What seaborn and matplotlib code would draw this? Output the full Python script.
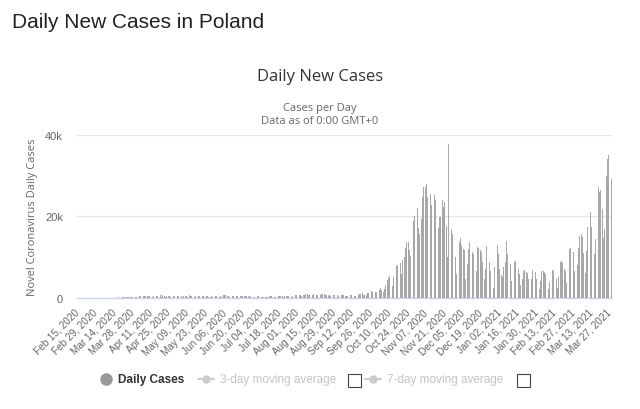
import numpy as np
import pandas as pd
import matplotlib
matplotlib.use("Agg")
import matplotlib.pyplot as plt
import seaborn as sns
from matplotlib.lines import Line2D
from matplotlib.patches import Rectangle

# ---- data (daily new cases) ----
feb_2020 = [0, 0, 0, 0, 0, 0, 0, 0, 0, 0, 0, 0, 0, 0, 0]
mar_2020 = [0, 0, 0, 1, 0, 4, 1, 5, 6, 5, 9, 20, 17, 36, 8, 27, 52, 30, 49, 70,
            111, 98, 115, 152, 150, 170, 249, 193, 224, 256, 243]
apr_2020 = [311, 392, 437, 244, 475, 311, 325, 370, 380, 361, 318, 268, 401, 260, 380,
            336, 363, 545, 263, 545, 306, 263, 380, 381, 460, 284, 285, 299, 345, 266]
may_2020 = [353, 306, 285, 302, 248, 307, 307, 329, 280, 595, 345, 361, 188, 271, 381,
            265, 379, 319, 228, 355, 416, 228, 443, 395, 220, 292, 321, 243, 259, 328, 380]
jun_2020 = [230, 292, 361, 294, 576, 575, 599, 375, 359, 282, 282, 314, 407, 308, 314,
            381, 378, 311, 441, 376, 300, 303, 301, 316, 292, 375, 240, 254, 282, 284]
jul_2020 = [371, 359, 300, 279, 292, 213, 193, 289, 290, 358, 299, 300, 249, 180, 267,
            306, 342, 334, 362, 295, 289, 375, 420, 418, 443, 337, 291, 512, 615, 657, 658]
aug_2020 = [640, 559, 680, 512, 617, 726, 809, 843, 658, 599, 548, 587, 832, 775, 730,
            716, 548, 587, 809, 811, 903, 767, 694, 578, 507, 758, 887, 784, 641, 600, 546]
sep_2020 = [513, 578, 554, 603, 655, 481, 377, 469, 611, 600, 661, 677, 476, 458, 600,
            757, 974, 1002, 1050, 780, 744, 752, 1136, 1264, 1587, 1584, 1350, 1000, 1306, 1326]
oct_2020 = [1552, 1967, 2292, 1934, 1306, 2236, 3003, 4280, 4739, 5300, 4178, 2855, 5068,
            6526, 8099, 7705, 9622, 8536, 5709, 9291, 10040, 12107, 13632, 13628, 11742,
            10241, 16300, 18820, 20156, 21629, 21897]
nov_2020 = [17171, 15578, 19364, 24692, 27143, 27086, 27875, 24785, 21713, 25484, 22683,
            24400, 25200, 24051, 21800, 17000, 19700, 19900, 23900, 22200, 23400, 17700,
            10100, 37596, 15300, 16900, 15700, 14800, 10000, 5700]
dec_2020 = [9100, 13600, 14700, 13000, 12000, 11600, 4600, 8300, 12000, 13600, 12400,
            11300, 10700, 4600, 6600, 12400, 12100, 11600, 11100, 8700, 4600, 7000, 12800,
            12000, 8700, 6600, 3400, 2500, 7500, 12800, 13000]
jan_2021 = [10700, 7000, 5600, 5000, 7500, 8700, 14000, 10700, 9900, 8300, 4200, 5800,
            8700, 9100, 8300, 7000, 5800, 3000, 4500, 6600, 6800, 6400, 6000, 4700, 2100,
            4600, 6700, 6800, 6200, 4600, 3800]
feb_2021 = [2100, 4200, 6600, 6500, 6200, 5800, 4600, 2100, 3900, 6900, 6700, 6600, 6100,
            4600, 2500, 5200, 8700, 8900, 8500, 7000, 6600, 3600, 6200, 12000, 12100, 12000,
            11100, 6600]
mar_2021 = [4786, 7937, 12146, 15250, 15698, 14857, 10896, 6170, 11385, 17260, 21045,
            21049, 17354, 15000, 10700, 14396, 25052, 27278, 25998, 26405, 21849, 14578,
            16741, 29800, 34100, 34900, 31500, 29200]

cases = (feb_2020 + mar_2020 + apr_2020 + may_2020 + jun_2020 + jul_2020 + aug_2020 +
         sep_2020 + oct_2020 + nov_2020 + dec_2020 + jan_2021 + feb_2021 + mar_2021)
dates = pd.date_range("2020-02-15", periods=len(cases), freq="D")
tick_every = 14
y_ticks = [0, 20000, 40000]
y_tick_labels = ["0", "20k", "40k"]

df = pd.DataFrame({"day": np.arange(len(cases)), "cases": cases})

# ---- style ----
sns.set_theme(style="white")
plt.rcParams['font.family'] = ['Liberation Sans', 'DejaVu Sans']

W, H = 640, 410
def fx(px):
    return px / W
def fy(py):
    return 1 - py / H

fig = plt.figure(figsize=(6.4, 4.1), dpi=100)
ax = fig.add_axes([fx(77), fy(298.7), fx(612) - fx(77), fy(135.7) - fy(298.7)])

sns.barplot(data=df, x="day", y="cases", color="#a8a8a8", saturation=1,
            width=0.62, linewidth=0, edgecolor="none", ax=ax, errorbar=None, zorder=3)

ax.set_xlim(-0.5, len(cases) - 0.5)
ax.set_ylim(0, 40000)
ax.set_yticks(y_ticks)
ax.set_yticklabels(y_tick_labels)
ax.yaxis.grid(True, color="#e6e6e6", linewidth=1.0, zorder=0)
ax.xaxis.grid(False)
ax.set_axisbelow(True)
for s in ["top", "right", "left"]:
    ax.spines[s].set_visible(False)
ax.spines["bottom"].set_color("#ccd6eb")
ax.spines["bottom"].set_linewidth(1.0)

tick_pos = list(range(0, len(cases), tick_every))
ax.set_xticks(tick_pos)
ax.set_xticklabels([dates[i].strftime("%b %d, %Y") for i in tick_pos],
                   rotation=45, ha="right", va="center", rotation_mode="anchor",
                   fontsize=7.2, color="#666666")
ax.tick_params(axis="x", length=0, pad=9)
ax.tick_params(axis="y", length=0, pad=10, labelsize=8, labelcolor="#666666")
ax.set_xlabel("")
ax.set_ylabel("")

# ---- texts ----
fig.text(fx(12), fy(22), "Daily New Cases in Poland", fontsize=15, color="#222222",
         ha="left", va="center")
fig.text(0.5, fy(77), "Daily New Cases", fontsize=12, color="#333333",
         ha="center", va="center", family=["Open Sans", "DejaVu Sans"])
fig.text(0.5, fy(108), "Cases per Day", fontsize=8, color="#666666",
         ha="center", va="center", family=["Open Sans", "DejaVu Sans"])
fig.text(0.5, fy(122), "Data as of 0:00 GMT+0", fontsize=8, color="#666666",
         ha="center", va="center", family=["Open Sans", "DejaVu Sans"])
fig.text(fx(33), fy(217), "Novel Coronavirus Daily Cases", fontsize=8, color="#666666",
         rotation=90, ha="center", va="center", family=["Open Sans", "DejaVu Sans"])

# ---- legend ----
ly = fy(380)
fig.add_artist(Line2D([fx(106)], [ly], marker="o", markersize=8, color="#999999",
                      linestyle="none", transform=fig.transFigure))
fig.text(fx(118), ly, "Daily Cases", fontsize=8.5, fontweight="bold", color="#333333",
         ha="left", va="center")
for x0, label, box in [(198, "3-day moving average", 348), (365, "7-day moving average", 517)]:
    fig.add_artist(Line2D([fx(x0), fx(x0 + 16)], [ly, ly], color="#cccccc", lw=1.5,
                          transform=fig.transFigure))
    fig.add_artist(Line2D([fx(x0 + 8)], [ly], marker="o", markersize=5, color="#cccccc",
                          linestyle="none", transform=fig.transFigure))
    fig.text(fx(x0 + 22), ly, label, fontsize=8.5, color="#c4c4c4",
             ha="left", va="center")
    fig.add_artist(Rectangle((fx(box), fy(388)), 13 / W, 13 / H, fill=False,
                             edgecolor="#444444", linewidth=0.8, transform=fig.transFigure))

fig.savefig("out.png", dpi=100, facecolor="white")
